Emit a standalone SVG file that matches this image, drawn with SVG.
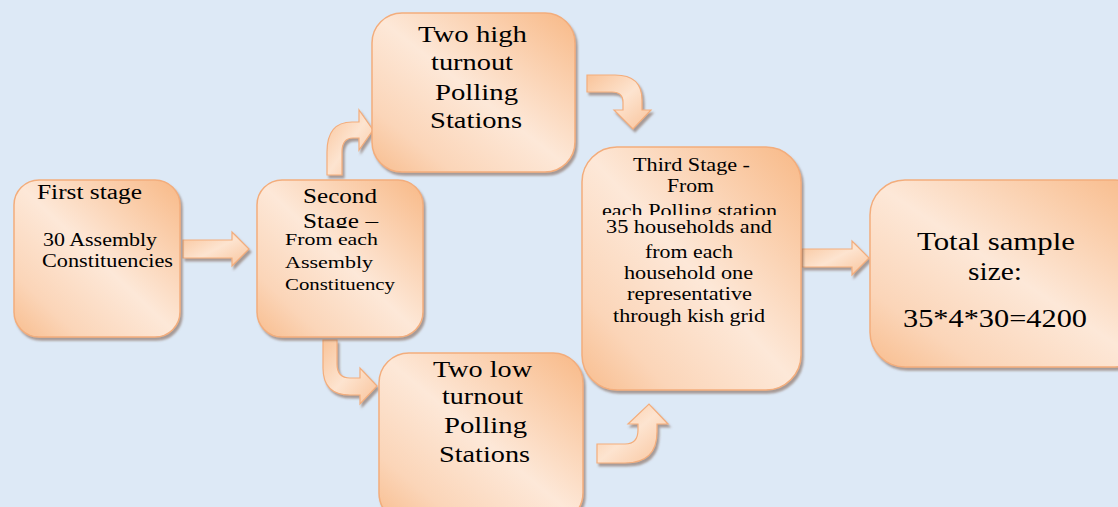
<svg xmlns="http://www.w3.org/2000/svg" width="1118" height="507" viewBox="0 0 1118 507">
<defs>
<linearGradient id="g" x1="1" y1="0" x2="0" y2="1">
<stop offset="0" stop-color="#f8b987"/>
<stop offset="0.5" stop-color="#fde8d8"/>
<stop offset="0.8" stop-color="#fbd5b8"/>
<stop offset="1" stop-color="#f8bd8e"/>
</linearGradient>
<linearGradient id="ga" x1="0" y1="0" x2="1" y2="1">
<stop offset="0" stop-color="#f9c49a"/>
<stop offset="0.5" stop-color="#fde4d0"/>
<stop offset="1" stop-color="#f9c39a"/>
</linearGradient>
<filter id="sh" x="-10%" y="-10%" width="125%" height="125%">
<feDropShadow dx="2" dy="3" stdDeviation="1.2" flood-color="#7a5a48" flood-opacity="0.55"/>
</filter>
<clipPath id="c2"><rect x="257" y="180" width="166" height="48"/></clipPath>
<clipPath id="c5"><rect x="582" y="147" width="219" height="68"/></clipPath>
<style>
.box{fill:url(#g);stroke:#f3ad7c;stroke-width:1.5;filter:url(#sh)}
.arr{fill:url(#ga);stroke:#f3ad7c;stroke-width:1.2;filter:url(#sh)}
text{font-family:"Liberation Serif","Times New Roman",serif;fill:#000}
</style>
</defs>
<rect width="1118" height="507" fill="#dde9f6"/>

<g id="connectors">
<path class="arr" d="M183,240 L232,240 L232,232 L249,249 L232,266 L232,258 L183,258 Z"/>
<path class="arr" d="M802,249 L852,249 L852,241 L869,258 L852,275 L852,267 L802,267 Z"/>
<path class="arr" d="M327,175 L327,152 Q327,122 352,122 L359,122 L359,110 L373,130 L359,150 L359,138 L353,138 Q342,138 342,152 L342,175 Z"/>
<path class="arr" d="M587,75 L615,75 Q642,75 642,100 L642,110 L651,110 L633,129 L614,110 L623,110 L623,102 Q623,92 612,92 L587,92 Z"/>
<path class="arr" d="M323,340 L323,368 Q323,395 350,395 L360,395 L360,404 L377,386 L360,368 L360,378 L350,378 Q337,378 337,364 L337,340 Z"/>
<path class="arr" d="M597,444 L625,444 Q638,444 638,430 L638,424 L628,424 L649,404 L668,424 L657,424 L657,432 Q657,463 625,463 L597,463 Z"/>
</g>

<g id="node1">
<rect class="box" x="14" y="180" width="166" height="157" rx="25"/>
<text x="37" y="199" font-size="20" textLength="105" lengthAdjust="spacingAndGlyphs">First stage</text>
<text x="43" y="246" font-size="19" textLength="114" lengthAdjust="spacingAndGlyphs">30 Assembly</text>
<text x="42" y="267" font-size="19" textLength="131" lengthAdjust="spacingAndGlyphs">Constituencies</text>
</g>

<g id="node2">
<rect class="box" x="257" y="180" width="166" height="157" rx="25"/>
<g clip-path="url(#c2)">
<text x="303" y="203" font-size="21" textLength="74" lengthAdjust="spacingAndGlyphs">Second</text>
<text x="303" y="228" font-size="21" textLength="75" lengthAdjust="spacingAndGlyphs">Stage –</text>
</g>
<text x="285" y="245" font-size="17" textLength="93" lengthAdjust="spacingAndGlyphs">From each</text>
<text x="285" y="268" font-size="17" textLength="88" lengthAdjust="spacingAndGlyphs">Assembly</text>
<text x="285" y="290" font-size="17" textLength="110" lengthAdjust="spacingAndGlyphs">Constituency</text>
</g>

<g id="node3">
<rect class="box" x="372" y="13" width="203" height="159" rx="30"/>
<text x="418" y="42" font-size="24" textLength="109" lengthAdjust="spacingAndGlyphs">Two high</text>
<text x="431" y="70" font-size="24" textLength="82" lengthAdjust="spacingAndGlyphs">turnout</text>
<text x="435" y="100" font-size="24" textLength="83" lengthAdjust="spacingAndGlyphs">Polling</text>
<text x="430" y="128" font-size="24" textLength="92" lengthAdjust="spacingAndGlyphs">Stations</text>
</g>

<g id="node4">
<rect class="box" x="379" y="353" width="204" height="170" rx="30"/>
<text x="433" y="377" font-size="24" textLength="99" lengthAdjust="spacingAndGlyphs">Two low</text>
<text x="442" y="404" font-size="24" textLength="81" lengthAdjust="spacingAndGlyphs">turnout</text>
<text x="444" y="433" font-size="24" textLength="83" lengthAdjust="spacingAndGlyphs">Polling</text>
<text x="439" y="462" font-size="24" textLength="91" lengthAdjust="spacingAndGlyphs">Stations</text>
</g>

<g id="node5">
<rect class="box" x="582" y="147" width="219" height="243" rx="35"/>
<g clip-path="url(#c5)">
<text x="633" y="171" font-size="18" textLength="117" lengthAdjust="spacingAndGlyphs">Third Stage -</text>
<text x="667" y="192" font-size="18" textLength="47" lengthAdjust="spacingAndGlyphs">From</text>
<text x="602" y="217" font-size="18" textLength="175" lengthAdjust="spacingAndGlyphs">each Polling station</text>
</g>
<text x="606" y="233" font-size="18" textLength="166" lengthAdjust="spacingAndGlyphs">35 households and</text>
<text x="645" y="258" font-size="18" textLength="88" lengthAdjust="spacingAndGlyphs">from each</text>
<text x="624" y="279" font-size="18" textLength="129" lengthAdjust="spacingAndGlyphs">household one</text>
<text x="627" y="300" font-size="18" textLength="125" lengthAdjust="spacingAndGlyphs">representative</text>
<text x="613" y="322" font-size="18" textLength="152" lengthAdjust="spacingAndGlyphs">through kish grid</text>
</g>

<g id="node6">
<rect class="box" x="870" y="180" width="280" height="187" rx="35"/>
<text x="917" y="250" font-size="25" textLength="158" lengthAdjust="spacingAndGlyphs">Total sample</text>
<text x="968" y="280" font-size="25" textLength="54" lengthAdjust="spacingAndGlyphs">size:</text>
<text x="903" y="327" font-size="25" textLength="184" lengthAdjust="spacingAndGlyphs">35*4*30=4200</text>
</g>
</svg>
